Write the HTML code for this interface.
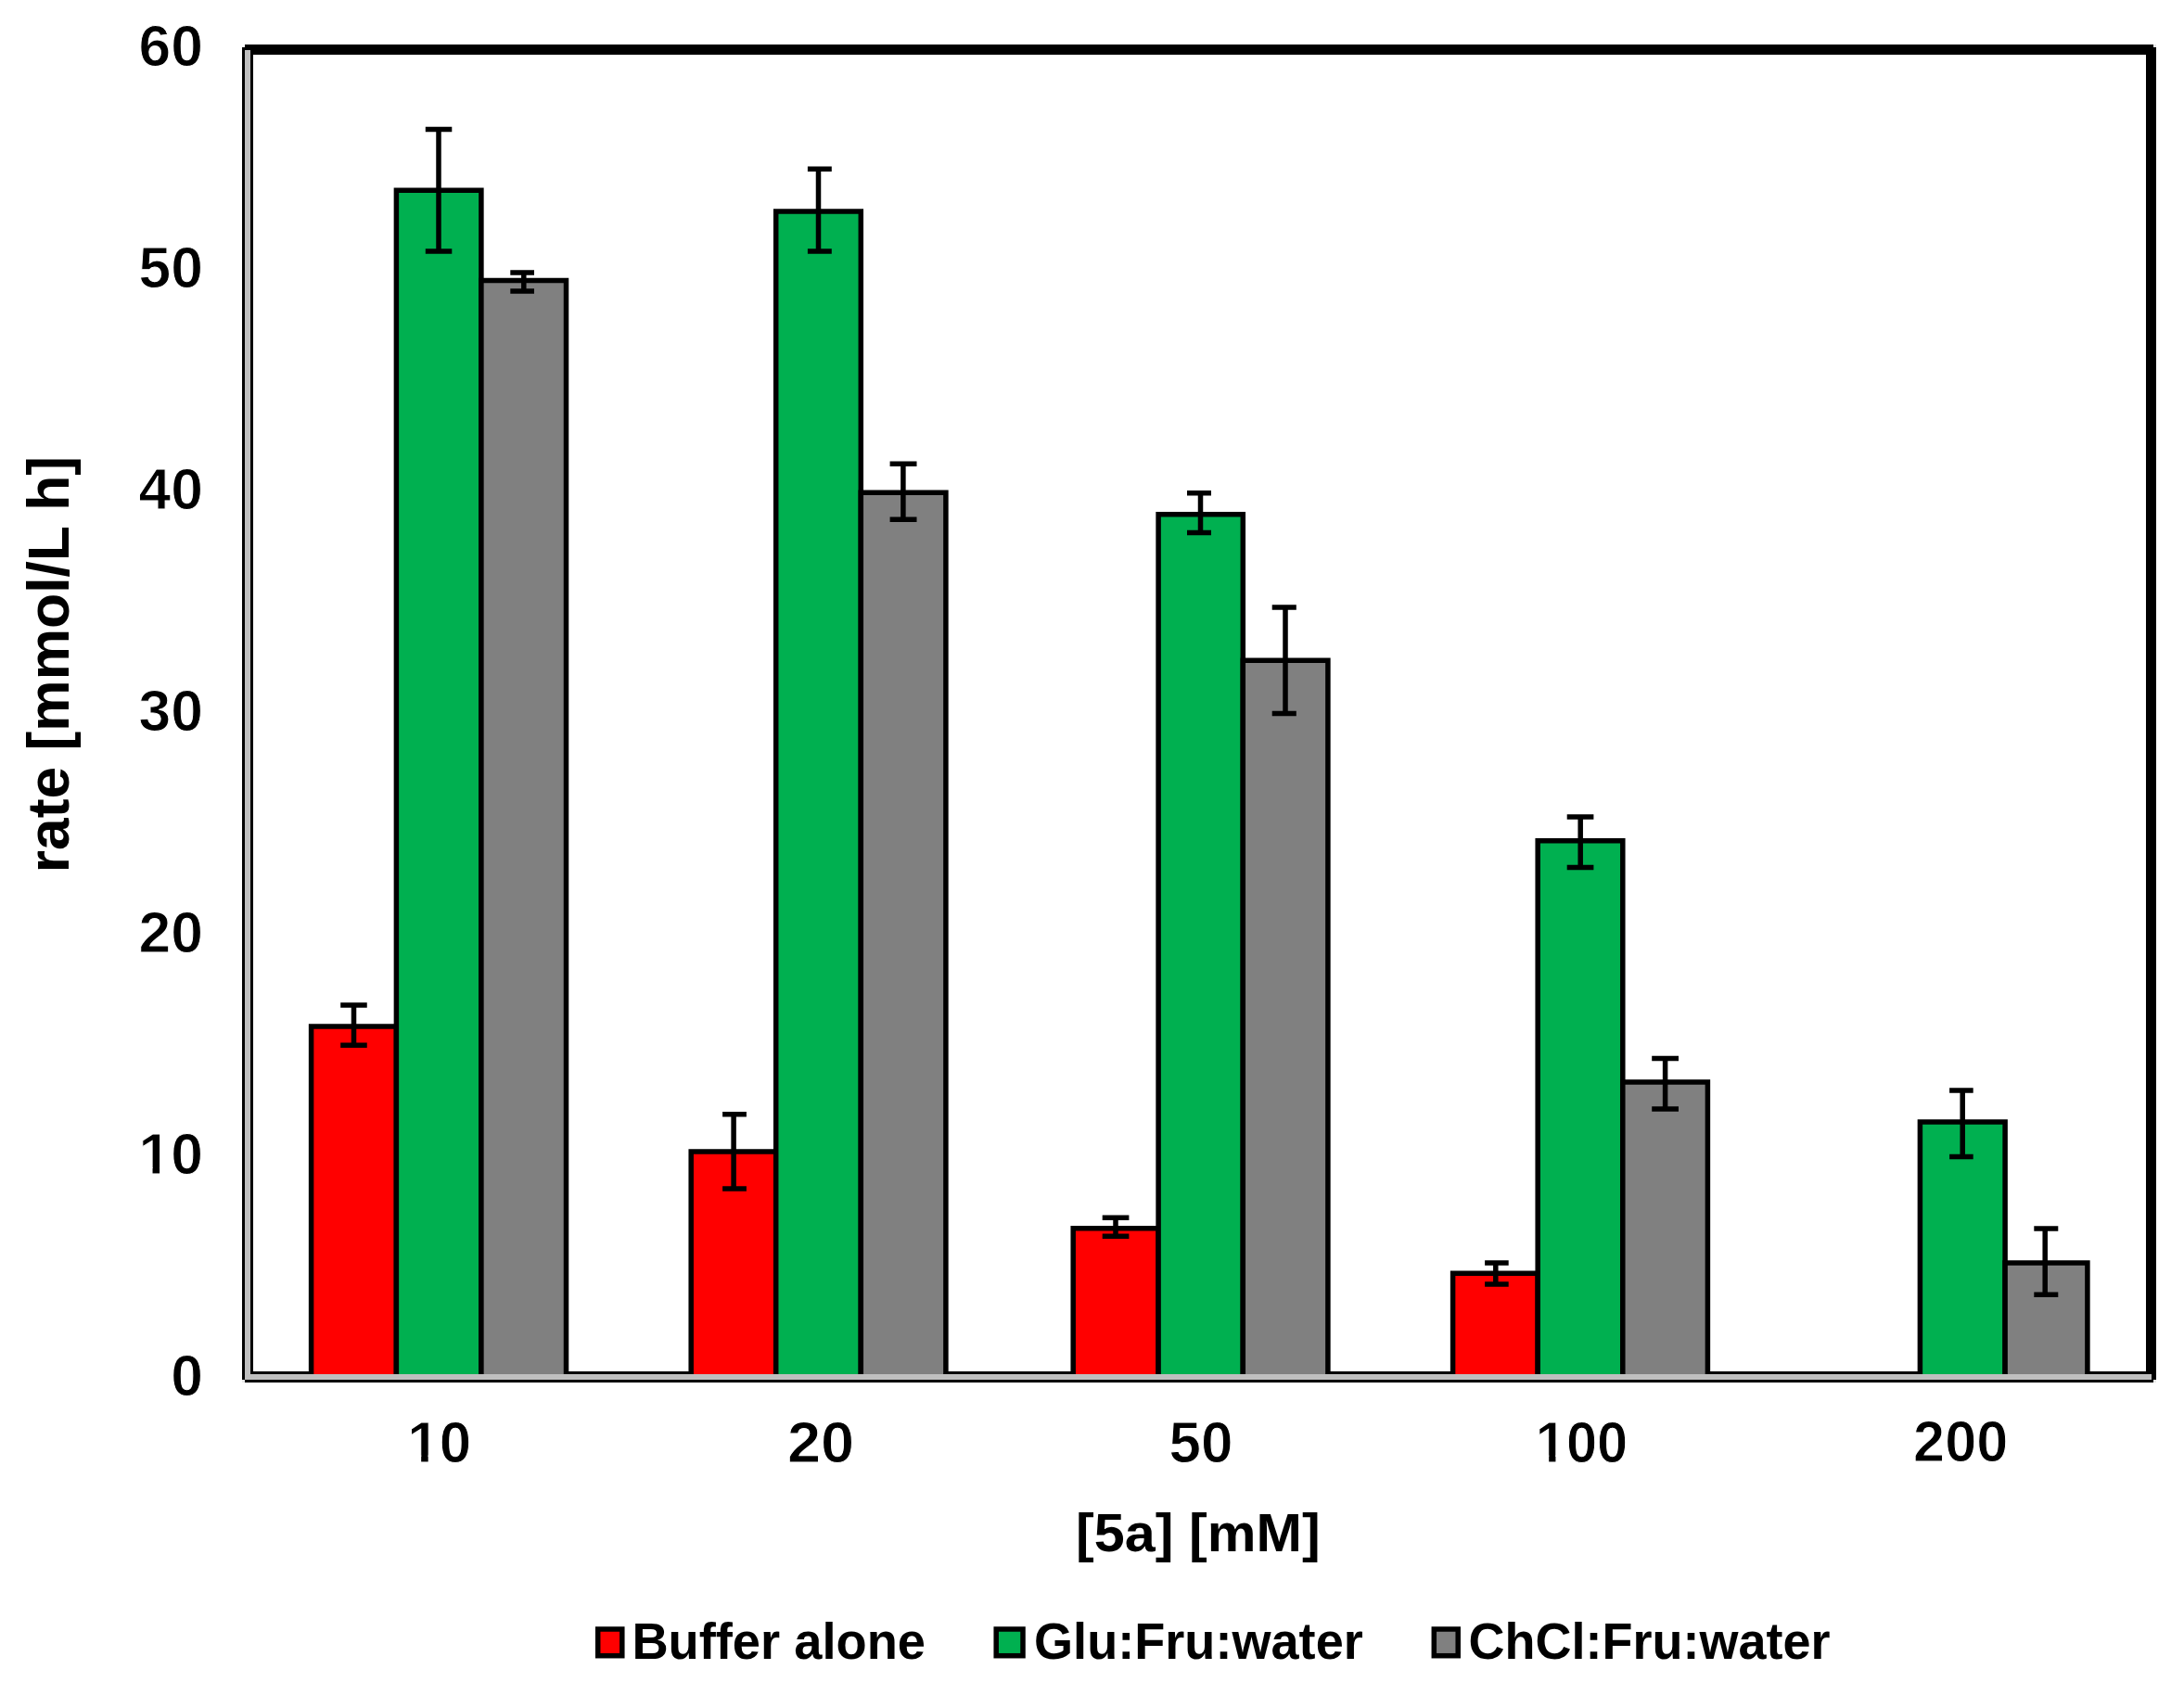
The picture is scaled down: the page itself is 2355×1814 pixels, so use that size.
<!DOCTYPE html>
<html lang="en"><head><meta charset="utf-8"><title>rate vs [5a]</title>
<style>html,body{margin:0;padding:0;background:#fff}svg{display:block}</style>
</head><body>
<svg width="2355" height="1814" viewBox="0 0 2355 1814">
<rect width="2355" height="1814" fill="#fff"/>
<g fill="#000">
<rect x="264" y="48" width="2061" height="11"/>
<rect x="2314" y="48" width="11" height="1443"/>
<rect x="261" y="51" width="12" height="1440"/>
<rect x="261" y="1479" width="2064" height="12"/>
</g>
<g fill="#e8e8e8"><rect x="261" y="1488" width="3" height="3"/><rect x="2322" y="48" width="3" height="3"/><rect x="2322" y="1488" width="3" height="3"/></g>
<g stroke="#000" stroke-width="5.5" stroke-linejoin="miter">
<path d="M335.6 1482V1107H427.4V1482" fill="#ff0000"/>
<path d="M427.4 1482V205.3H518.9V1482" fill="#00b050"/>
<path d="M518.9 1482V302.5H610.5V1482" fill="#808080"/>
<path d="M745.2 1482V1242H836.7V1482" fill="#ff0000"/>
<path d="M836.7 1482V228H928.3V1482" fill="#00b050"/>
<path d="M928.3 1482V531.3H1019.9V1482" fill="#808080"/>
<path d="M1157.2 1482V1324.7H1249.1V1482" fill="#ff0000"/>
<path d="M1249.1 1482V554.7H1340.3V1482" fill="#00b050"/>
<path d="M1340.3 1482V712.3H1431.9V1482" fill="#808080"/>
<path d="M1566.6 1482V1373.3H1658.2V1482" fill="#ff0000"/>
<path d="M1658.2 1482V906.7H1749.8V1482" fill="#00b050"/>
<path d="M1749.8 1482V1167H1841.4V1482" fill="#808080"/>
<path d="M2070.4 1482V1210H2162.1V1482" fill="#00b050"/>
<path d="M2162.1 1482V1362H2250.9V1482" fill="#808080"/>
</g>
<g fill="#bfbfbf">
<rect x="264" y="54" width="6" height="1434"/>
<rect x="264" y="1482" width="2056" height="6"/>
</g>
<g stroke="#000" stroke-width="5.5" fill="none">
<path d="M381.5 1084V1127.2M367.2 1084H395.75M367.2 1127.2H395.75"/>
<path d="M473 139.4V271M458.8 139.4H487.3M458.8 271H487.3"/>
<path d="M564.8 294V314M550.3 294H576M550.3 314H576"/>
<path d="M791.1 1201.7V1281.9M779.1 1201.7H804.9M779.1 1281.9H804.9"/>
<path d="M882.5 182.2V271M870.9 182.2H896.8M870.9 271H896.8"/>
<path d="M973.9 500.2V560.2M959.6 500.2H988.5M959.6 560.2H988.5"/>
<path d="M1203 1313.2V1333.3M1188.7 1313.2H1217.4M1188.7 1333.3H1217.4"/>
<path d="M1294.5 531.8V574.6M1280 531.8H1306M1280 574.6H1306"/>
<path d="M1386 655V769.4M1371.7 655H1397.8M1371.7 769.4H1397.8"/>
<path d="M1612.8 1362V1385M1601.1 1362H1626.7M1601.1 1385H1626.7"/>
<path d="M1704.2 880.9V935.5M1689.7 880.9H1718.4M1689.7 935.5H1718.4"/>
<path d="M1795.6 1141.5V1195.9M1781.2 1141.5H1810M1781.2 1195.9H1810"/>
<path d="M2116.2 1176V1247.4M2102.1 1176H2127.7M2102.1 1247.4H2127.7"/>
<path d="M2205.2 1325V1396.3M2193.3 1325H2219.3M2193.3 1396.3H2219.3"/>
</g>
<g stroke="#000" stroke-width="5.5">
<rect x="644.7" y="1757" width="26.1" height="28.7" fill="#ff0000"/>
<rect x="1074.2" y="1757" width="28.8" height="28.7" fill="#00b050"/>
<rect x="1546.3" y="1757" width="25.9" height="28.7" fill="#808080"/>
</g>
<g font-family="Liberation Sans, sans-serif" font-weight="bold" fill="#000">
<g transform="translate(439.20 1576.50) scale(0.9942 1)"><text font-size="62.33" text-anchor="start" stroke="#fff" stroke-width="1.0">10</text><rect x="1.87" y="-6.98" width="13.18" height="8.41" fill="#fff" stroke="none"/><rect x="22.60" y="-6.98" width="12.31" height="8.41" fill="#fff" stroke="none"/></g>
<text transform="translate(848.90 1576.50) scale(1.0426 1)" font-size="62.33" text-anchor="start" stroke="#fff" stroke-width="1.0">20</text>
<text transform="translate(1260.60 1576.50) scale(0.9952 1)" font-size="62.33" text-anchor="start" stroke="#fff" stroke-width="1.0">50</text>
<g transform="translate(1655.80 1576.50) scale(0.9567 1)"><text font-size="62.33" text-anchor="start" stroke="#fff" stroke-width="1.0">100</text><rect x="1.87" y="-6.98" width="13.18" height="8.41" fill="#fff" stroke="none"/><rect x="22.60" y="-6.98" width="12.31" height="8.41" fill="#fff" stroke="none"/></g>
<text transform="translate(2063.10 1576.40) scale(0.9865 1)" font-size="62.03" text-anchor="start" stroke="#fff" stroke-width="1.0">200</text>
<text transform="translate(1160.10 1673.20) scale(1.0408 1)" font-size="57.00" text-anchor="start">[5a] [mM]</text>
<text transform="translate(681.40 1788.50) scale(0.9694 1)" font-size="56.00" text-anchor="start">Buffer alone</text>
<text transform="translate(1115.00 1788.50) scale(0.9666 1)" font-size="56.00" text-anchor="start">Glu:Fru:water</text>
<text transform="translate(1583.60 1788.50) scale(0.9640 1)" font-size="56.00" text-anchor="start">ChCl:Fru:water</text>
<text transform="translate(74.40 941.30) scale(0.9964 1) rotate(-90)" font-size="62.37">rate [mmol/L h]</text>
<text transform="translate(218.90 70.70) scale(0.9910 1)" font-size="63.00" text-anchor="end" stroke="#fff" stroke-width="1.0">60</text>
<text transform="translate(218.90 309.80) scale(0.9910 1)" font-size="63.00" text-anchor="end" stroke="#fff" stroke-width="1.0">50</text>
<text transform="translate(218.90 548.90) scale(0.9910 1)" font-size="63.00" text-anchor="end" stroke="#fff" stroke-width="1.0">40</text>
<text transform="translate(218.90 788.00) scale(0.9910 1)" font-size="63.00" text-anchor="end" stroke="#fff" stroke-width="1.0">30</text>
<text transform="translate(218.90 1027.10) scale(0.9910 1)" font-size="63.00" text-anchor="end" stroke="#fff" stroke-width="1.0">20</text>
<g transform="translate(218.90 1266.20) scale(0.9910 1)"><text font-size="63.00" text-anchor="end" stroke="#fff" stroke-width="1.0">10</text><rect x="-68.18" y="-7.06" width="13.32" height="8.50" fill="#fff" stroke="none"/><rect x="-47.23" y="-7.06" width="12.43" height="8.50" fill="#fff" stroke="none"/></g>
<text transform="translate(218.90 1505.30) scale(0.9910 1)" font-size="63.00" text-anchor="end" stroke="#fff" stroke-width="1.0">0</text>
</g>
</svg>
</body></html>
